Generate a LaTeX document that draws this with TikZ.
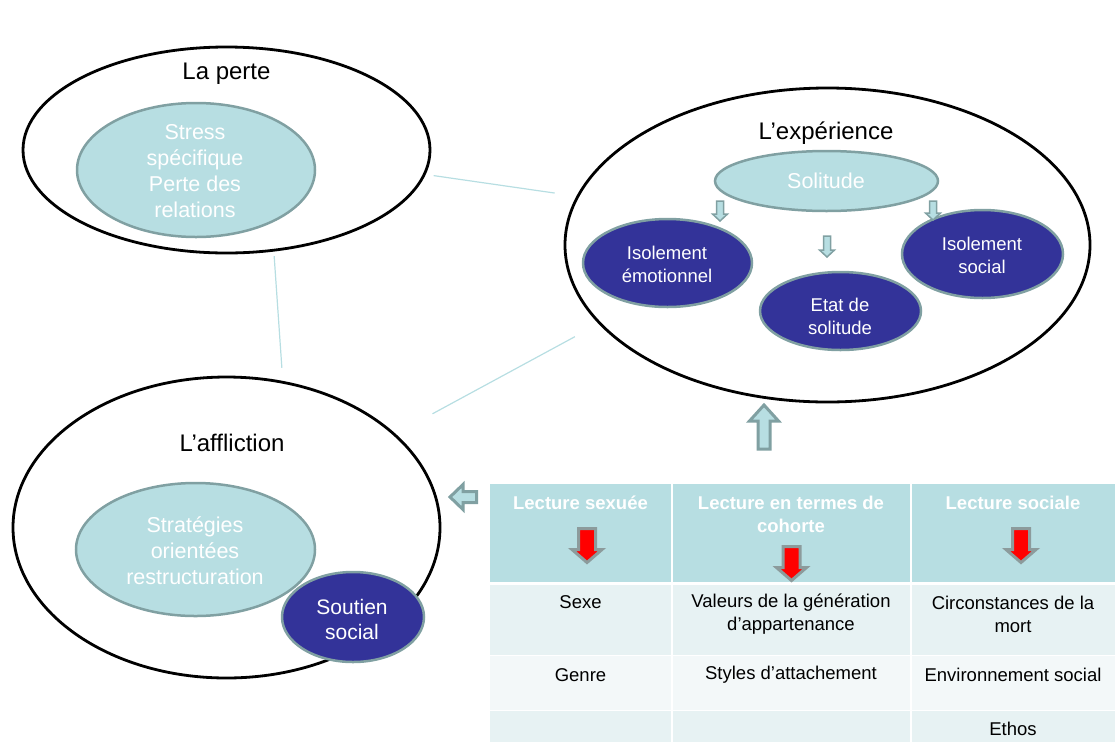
\documentclass[tikz,border=0pt]{standalone}
\usepackage{fontspec}
\setmainfont{Liberation Sans}
\usetikzlibrary{shapes.geometric}

\definecolor{paleteal}{RGB}{183,222,226}
\definecolor{greyteal}{RGB}{128,160,162}
\definecolor{deepblue}{RGB}{51,51,153}
\definecolor{rowdark}{RGB}{231,242,243}
\definecolor{rowlight}{RGB}{243,248,249}
\definecolor{arrowgrey}{RGB}{140,155,156}

\tikzset{
   zoneoval/.style={ellipse, draw=black, line width=2.8pt, inner sep=0pt},
   themeoval/.style={ellipse, draw=greyteal, fill=paleteal, line width=2.5pt, inner sep=0pt},
   facetoval/.style={ellipse, draw=greyteal, fill=deepblue, line width=2.5pt, inner sep=0pt},
   zonetitle/.style={font=\fontsize{24}{28}\selectfont, inner sep=0pt},
   themetext/.style={text=white, align=center, font=\fontsize{21.5}{26}\selectfont, inner sep=0pt},
   facettext/.style={text=white, align=center, font=\fontsize{18.5}{23}\selectfont, inner sep=0pt},
   bigtext/.style={text=white, align=center, font=\fontsize{21}{25}\selectfont, inner sep=0pt},
   headtext/.style={text=white, align=center, font=\bfseries\fontsize{18.5}{23}\selectfont, inner sep=0pt},
   celltext/.style={align=center, font=\fontsize{18.5}{23}\selectfont, inner sep=0pt},
   link/.style={draw=paleteal, line width=1.2pt},
   hollowsmall/.style={draw=greyteal, fill=paleteal, line width=1.5pt},
   hollowbig/.style={draw=greyteal, fill=paleteal, line width=3pt},
   redarrow/.style={draw=arrowgrey, fill=red, line width=3pt},
   cellsep/.style={draw=white, line width=2pt}
}

% style, x, top, tip, body half width, head half width, head length
\newcommand{\blockdown}[7]{%
   \draw [#1] (#2-#5,#3) -- (#2+#5,#3) -- (#2+#5,#4-#7) -- (#2+#6,#4-#7)
      -- (#2,#4) -- (#2-#6,#4-#7) -- (#2-#5,#4-#7) -- cycle;}

\begin{document}
\begin{tikzpicture}[x=1pt, y=-1pt]
   \useasboundingbox (0,0) rectangle (1115,742);

   \node (Perte) at (226.5,150) [zoneoval, minimum width=407, minimum height=206] {};
   \node (Experience) at (827.5,245) [zoneoval, minimum width=525, minimum height=314] {};
   \node (Affliction) at (226.5,527.5) [zoneoval, minimum width=427, minimum height=301] {};

   \node (PerteTitle) at (226.5,74) [zonetitle] {La perte};
   \node (ExpTitle) at (826,133) [zonetitle] {L’expérience};
   \node (AfflTitle) at (232,443) [zonetitle] {L’affliction};

   \node (Stress) at (196,170) [themeoval, minimum width=238, minimum height=134] {};
   \node (StressTxt) at (195,171.5) [themetext] {Stress\\spécifique\\Perte des\\relations};

   \node (Solitude) at (826.5,181) [themeoval, minimum width=223, minimum height=60] {};
   \node (SolitudeTxt) at (826,181) [themetext] {Solitude};
   \node (IsolEmo) at (667.5,263) [facetoval, minimum width=169, minimum height=88] {};
   \node (IsolEmoTxt) at (667,264.5) [facettext] {Isolement\\émotionnel};
   \node (IsolSoc) at (982.5,254) [facetoval, minimum width=161, minimum height=88] {};
   \node (IsolSocTxt) at (982,255.5) [facettext] {Isolement\\social};
   \node (EtatSol) at (840.5,311) [facetoval, minimum width=161, minimum height=78] {};
   \node (EtatSolTxt) at (840,316.5) [facettext] {Etat de\\solitude};

   \node (Strategies) at (195.5,549.5) [themeoval, minimum width=239, minimum height=133] {};
   \node (StrategiesTxt) at (195,550.7) [themetext] {Stratégies\\orientées\\restructuration};
   \node (Soutien) at (353,617) [facetoval, minimum width=142, minimum height=90] {};
   \node (SoutienTxt) at (352,619.5) [bigtext] {Soutien\\social};

   \draw [link, shorten <=8pt, shorten >=22pt] (Perte.-7) -- (Experience.169);
   \draw [link, shorten <=4.5pt, shorten >=13pt] (Perte.-65.5) -- (Affliction.69.4);
   \draw [link, shorten <=42pt, shorten >=27pt] (Affliction.29) -- (Experience.-161.8);

   \blockdown{hollowsmall}{720}{201}{221}{3.5}{7.5}{7}
   \blockdown{hollowsmall}{827}{236}{257}{3.5}{7.5}{7}
   \blockdown{hollowsmall}{933}{201}{220}{3.5}{7.5}{7}

   \draw [hollowbig] (758,449) -- (770,449) -- (770,421) -- (778.5,421) -- (764,405)
      -- (749.5,421) -- (758,421) -- cycle;
   \draw [hollowbig] (476.5,491.5) -- (476.5,502.5) -- (463,502.5) -- (463,509.5)
      -- (450,497) -- (463,484.5) -- (463,491.5) -- cycle;

   \fill [paleteal] (490,484) rectangle (1115,581.5);
   \fill [rowdark] (490,584.5) rectangle (1115,655);
   \fill [rowlight] (490,656) rectangle (1115,710);
   \fill [rowdark] (490,711) rectangle (1115,742);
   \draw [cellsep] (671.5,484) -- (671.5,742);
   \draw [cellsep] (910.5,484) -- (910.5,742);

   \node (HeadSex) at (580.5,503) [headtext] {Lecture sexuée};
   \node (HeadCoh) at (791,514.5) [headtext] {Lecture en termes de\\cohorte};
   \node (HeadSoc) at (1013,503) [headtext] {Lecture sociale};

   \blockdown{redarrow}{587}{528.5}{562.5}{8.5}{15}{13}
   \blockdown{redarrow}{791.5}{546.5}{580.5}{8.5}{15}{13}
   \blockdown{redarrow}{1021}{528.5}{562.5}{8.5}{15}{13}

   \node (Sexe) at (580.5,602) [celltext] {Sexe};
   \node (Valeurs) at (791,614.5) [celltext] {Valeurs de la génération\\d’appartenance};
   \node (Circ) at (1013,614.5) [celltext] {Circonstances de la\\mort};
   \node (Genre) at (580.5,675) [celltext] {Genre};
   \node (Styles) at (791,675) [celltext] {Styles d’attachement};
   \node (Environ) at (1013,675) [celltext] {Environnement social};
   \node (Ethos) at (1013,729) [celltext] {Ethos};

\end{tikzpicture}
\end{document}
